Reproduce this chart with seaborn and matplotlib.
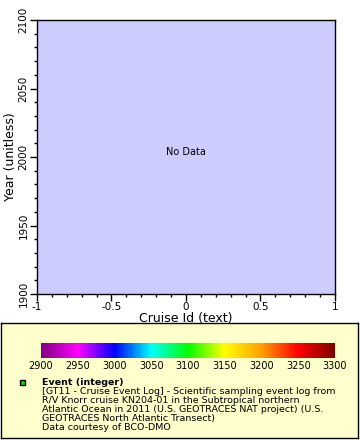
import numpy as np
import pandas as pd
import seaborn as sns
import matplotlib.pyplot as plt
import matplotlib.ticker as ticker
from matplotlib.colors import LinearSegmentedColormap, Normalize
from matplotlib.patches import Rectangle
import matplotlib as mpl

# no data points in this dataset
cruise_id = []
year = []
event = []

x_range = (-1, 1)
y_range = (1900, 2100)
c_range = (2900, 3300)
cbar_ticks = [2900, 2950, 3000, 3050, 3100, 3150, 3200, 3250, 3300]
cmap_colors = ["#800080", "#ff00ff", "#0000ff", "#00ffff", "#00ff00",
               "#ffff00", "#ffa000", "#ff0000", "#800000"]

legend_title = "Event (integer)"
legend_lines = [
    "[GT11 - Cruise Event Log] - Scientific sampling event log from",
    "R/V Knorr cruise KN204-01 in the Subtropical northern",
    "Atlantic Ocean in 2011 (U.S. GEOTRACES NAT project) (U.S.",
    "GEOTRACES North Atlantic Transect)",
    "Data courtesy of BCO-DMO",
]

sns.set_style("ticks")
plt.rcParams["font.family"] = ["DejaVu Sans"]
plt.rcParams["text.color"] = "black"
plt.rcParams["axes.labelcolor"] = "black"
plt.rcParams["xtick.color"] = "black"
plt.rcParams["ytick.color"] = "black"

df = pd.DataFrame({"cruise_id": pd.Series(cruise_id, dtype=float),
                   "year": pd.Series(year, dtype=float),
                   "event": pd.Series(event, dtype=float)})

cmap = LinearSegmentedColormap.from_list("erd", cmap_colors)

fig = plt.figure(figsize=(3.6, 4.4), dpi=100)
ax = fig.add_axes([37 / 360, 1 - 294 / 440, 298 / 360, 274 / 440])
sns.scatterplot(data=df, x="cruise_id", y="year", ax=ax, legend=False)
ax.set_facecolor("#ccccff")
ax.set_xlim(*x_range)
ax.set_ylim(*y_range)
ax.xaxis.set_major_locator(ticker.MultipleLocator(0.5))
ax.xaxis.set_minor_locator(ticker.MultipleLocator(0.1))
ax.yaxis.set_major_locator(ticker.MultipleLocator(50))
ax.yaxis.set_minor_locator(ticker.MultipleLocator(10))
ax.xaxis.set_major_formatter(ticker.FuncFormatter(lambda v, p: f"{v:g}"))
ax.tick_params(which="major", length=5, width=1, labelsize=7.5, pad=1)
ax.tick_params(which="minor", length=2.5, width=1)
for lab in ax.get_yticklabels():
    lab.set_rotation(90)
    lab.set_va("center")
for s in ax.spines.values():
    s.set_linewidth(1)
    s.set_color("black")
ax.set_xlabel("Cruise Id (text)", fontsize=9, labelpad=0)
ax.set_ylabel("Year (unitless)", fontsize=9, labelpad=1)
ax.text(0, 2000, "No Data", ha="center", va="bottom", fontsize=7)

# legend panel
leg = fig.add_axes([1 / 360, 1 - 438 / 440, 357 / 360, 115 / 440])
leg.set_xlim(0, 357)
leg.set_ylim(115, 0)
leg.set_facecolor("#ffffcc")
leg.set_xticks([])
leg.set_yticks([])
for s in leg.spines.values():
    s.set_linewidth(1)
    s.set_color("black")

cax = fig.add_axes([41 / 360, 1 - 358 / 440, 294 / 360, 15 / 440])
cb = mpl.colorbar.ColorbarBase(cax, cmap=cmap, norm=Normalize(*c_range),
                               orientation="horizontal", ticks=cbar_ticks)
cb.outline.set_visible(False)
cax.tick_params(length=0, labelsize=7, pad=2)

leg.add_patch(Rectangle((19, 57), 5, 5, facecolor="#00dd00", edgecolor="black", lw=1))
leg.text(41, 59, legend_title, fontsize=6.8, fontweight="bold", va="center")
for i, line in enumerate(legend_lines):
    leg.text(41, 68 + 9 * i, line, fontsize=6.8, va="center")

fig.savefig("out.png", dpi=100)
